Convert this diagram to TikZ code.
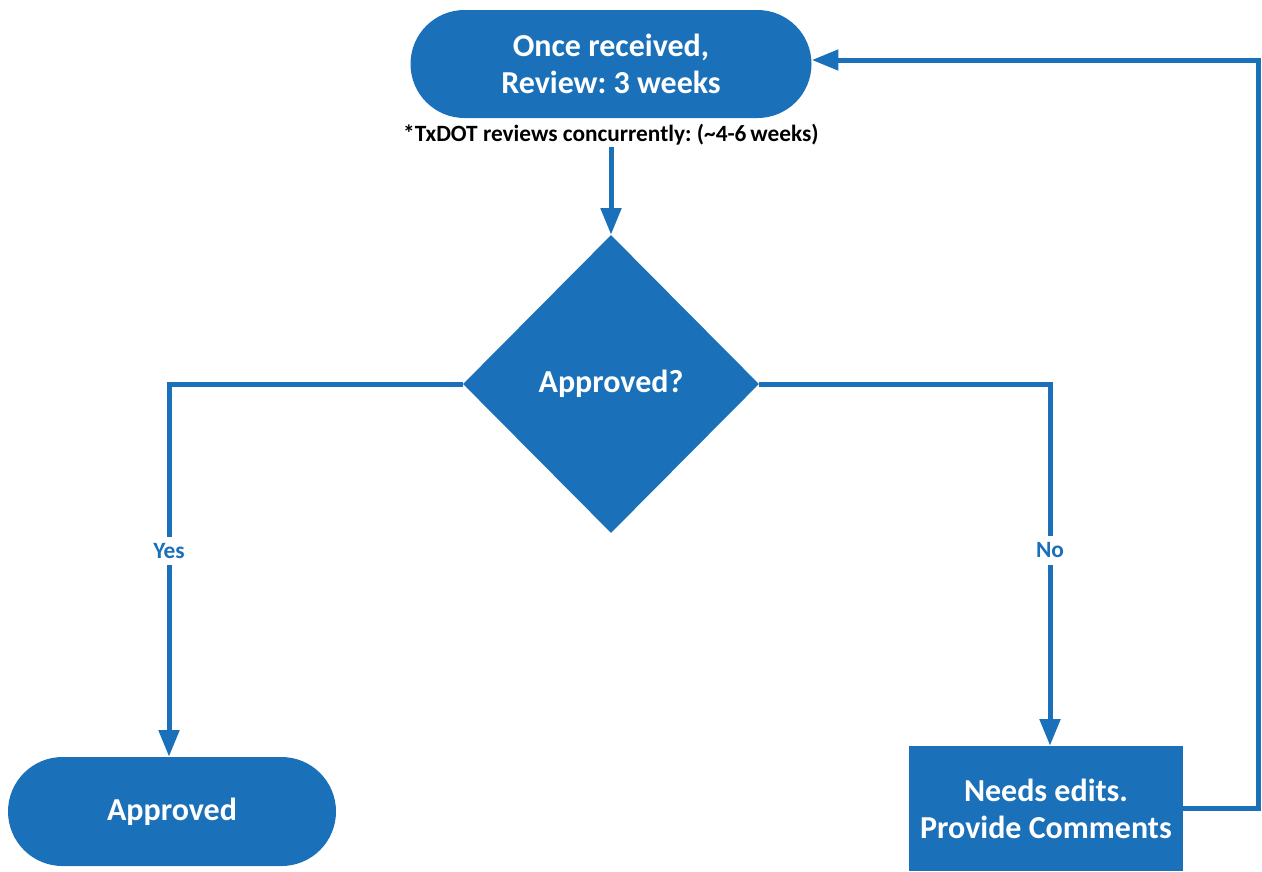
\documentclass[tikz,border=0pt]{standalone}
\usepackage{fontspec}
\setmainfont{Carlito}
\frenchspacing
\usetikzlibrary{shapes.geometric,shapes.misc,arrows.meta}
\definecolor{flowblue}{RGB}{27,113,185}
\begin{document}
\begin{tikzpicture}[x=0.75pt,y=-0.75pt,
  box/.style={fill=flowblue,draw=none,text=white,font=\bfseries\fontsize{24}{27.75}\selectfont,align=center,inner sep=0pt},
  term/.style={box,rounded rectangle},
  decision/.style={box,diamond,aspect=1},
  procbox/.style={box,rectangle},
  conn/.style={draw=flowblue,line width=3.75pt,-{Triangle[width=15pt,length=20pt]}},
  lbl/.style={fill=white,text=flowblue,font=\bfseries\fontsize{17.5}{21}\selectfont,inner xsep=2pt,inner ysep=5pt},
  notetext/.style={text=black,font=\bfseries\fontsize{17.5}{21}\selectfont,inner sep=1.5pt}
]
\useasboundingbox (0,0) rectangle (1262,871);
\node[term,minimum width=300.75pt,minimum height=81pt] (top) at (611,64) {Once received,\\Review: 3 weeks};
\node[notetext,anchor=base] (note) at (611,141) {*TxDOT reviews concurrently: (\textasciitilde4-6\,weeks)};
\node[decision,minimum width=222pt,minimum height=223.5pt] (dia) at (611,384) {Approved?};
\node[term,minimum width=246pt,minimum height=81.75pt] (appr) at (172,811.5) {Approved};
\node[procbox,minimum width=205.5pt,minimum height=93.75pt] (edits) at (1046,808.5) {Needs edits.\\Provide Comments};
\coordinate (fb) at (1258,60);

\draw[conn] (note.south) -- (dia.north);
\draw[conn] (dia.west) -| node[lbl,pos=0.724] {Yes} ([xshift=-2.25pt]appr.north);
\draw[conn] (dia.east) -| node[lbl,pos=0.73] {No} ([xshift=3pt]edits.north);
\draw[conn] (edits.east) -| (fb) -- (fb -| top.east);
\end{tikzpicture}
\end{document}
